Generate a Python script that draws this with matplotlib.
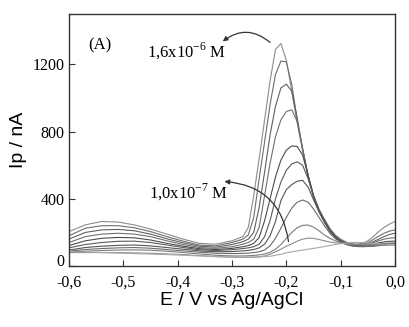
import numpy as np
import matplotlib
matplotlib.use("Agg")
import matplotlib.pyplot as plt
from matplotlib.ticker import FixedLocator, FuncFormatter

# potential grid (V vs Ag/AgCl)
potential = [-0.60, -0.57, -0.54, -0.51, -0.48, -0.45, -0.42, -0.39, -0.36, -0.33,
             -0.30, -0.28, -0.27, -0.26, -0.25, -0.24, -0.23, -0.22, -0.21, -0.20,
             -0.19, -0.18, -0.17, -0.16, -0.15, -0.14, -0.13, -0.12, -0.11, -0.10,
             -0.09, -0.08, -0.07, -0.06, -0.05, -0.04, -0.03, -0.02, -0.01, 0.00]

# currents (nA), highest concentration first
c01 = [205, 245, 265, 262, 245, 220, 190, 160, 135, 130,
       150, 175, 230, 420, 640, 870, 1100, 1290, 1325, 1225,
       1040, 850, 690, 540, 420, 340, 280, 225, 185, 160,
       143, 133, 130, 135, 150, 175, 205, 230, 250, 265]
c02 = [180, 225, 240, 240, 228, 205, 175, 148, 125, 120,
       140, 160, 185, 290, 520, 740, 960, 1140, 1220, 1215,
       1080, 870, 690, 535, 415, 335, 275, 220, 180, 155,
       140, 130, 127, 130, 140, 158, 178, 195, 208, 215]
c03 = [160, 200, 215, 218, 210, 190, 162, 138, 118, 112,
       128, 145, 160, 200, 350, 560, 780, 950, 1060, 1083,
       1040, 880, 695, 535, 412, 330, 270, 215, 178, 152,
       137, 128, 124, 126, 132, 145, 160, 175, 188, 195]
c04 = [140, 175, 190, 195, 190, 175, 150, 128, 110, 105,
       115, 130, 140, 160, 230, 420, 610, 770, 870, 920,
       930, 860, 700, 540, 415, 330, 268, 213, 175, 150,
       135, 126, 122, 123, 128, 138, 150, 160, 166, 168]
c05 = [122, 150, 165, 170, 168, 155, 135, 118, 103, 98,
       105, 115, 122, 135, 170, 270, 400, 530, 630, 690,
       715, 712, 660, 540, 420, 332, 268, 212, 173, 148,
       133, 124, 120, 120, 124, 130, 138, 144, 147, 148]
c06 = [108, 128, 140, 147, 148, 140, 125, 110, 97, 92,
       97, 104, 108, 115, 130, 175, 270, 400, 500, 570,
       608, 620, 600, 520, 415, 330, 265, 210, 172, 147,
       132, 123, 119, 118, 120, 124, 130, 134, 136, 137]
c07 = [95, 110, 118, 123, 125, 120, 110, 100, 90, 85,
       86, 90, 93, 98, 108, 130, 180, 265, 390, 455,
       485, 505, 510, 470, 395, 322, 260, 207, 170, 145,
       130, 121, 117, 116, 117, 120, 124, 127, 129, 130]
c08 = [88, 98, 104, 108, 110, 106, 98, 90, 82, 76,
       74, 75, 77, 80, 85, 95, 120, 165, 225, 290,
       345, 380, 393, 380, 340, 290, 240, 195, 163, 142,
       128, 120, 116, 115, 116, 118, 121, 124, 126, 127]
c09 = [84, 88, 92, 95, 96, 94, 88, 80, 72, 64,
       60, 60, 61, 63, 66, 72, 82, 100, 128, 165,
       200, 228, 242, 244, 232, 210, 185, 165, 150, 140,
       133, 128, 125, 124, 124, 125, 126, 127, 128, 128]
c10 = [80, 80, 80, 80, 78, 76, 72, 68, 62, 56,
       53, 52, 52, 53, 55, 60, 70, 85, 100, 118,
       132, 148, 160, 166, 165, 158, 150, 143, 138, 135,
       133, 131, 130, 129, 128, 127, 126, 126, 126, 126]
blank = [85, 83, 80, 77, 74, 71, 68, 64, 60, 56,
         52, 52, 52, 53, 54, 56, 58, 64, 70, 78,
         85, 90, 95, 100, 105, 110, 116, 122, 128, 133,
         137, 140, 141, 140, 138, 135, 132, 130, 128, 127]

curves = [c01, c02, c03, c04, c05, c06, c07, c08, c09, c10, blank]
shades = ["#8c8c8c", "#6e6e6e", "#606060", "#707070", "#4c4c4c",
          "#5a5a5a", "#555555", "#6a6a6a", "#7c7c7c", "#8a8a8a", "#a8a8a8"]

xticks = [-0.6, -0.5, -0.4, -0.3, -0.2, -0.1, 0.0]
yticks = [0, 400, 800, 1200]

serif = "Liberation Serif"
sans = "Liberation Sans"
plt.rcParams["mathtext.fontset"] = "custom"
plt.rcParams["mathtext.rm"] = serif

fig = plt.figure(figsize=(4.09, 3.27), dpi=100)
ax = fig.add_axes([0.1687, 0.1865, 0.7971, 0.7705])

for y, c in zip(curves, shades):
    ax.plot(potential, y, color=c, lw=0.8)

ax.set_xlim(-0.6, 0.0)
ax.set_ylim(0, 1500)
ax.xaxis.set_major_locator(FixedLocator(xticks))
ax.yaxis.set_major_locator(FixedLocator(yticks))
ax.xaxis.set_major_formatter(FuncFormatter(lambda v, p: f"{v:.1f}".replace(".", ",").replace("-0,0", "0,0")))
ax.yaxis.set_major_formatter(FuncFormatter(lambda v, p: f"{v:.0f}"))
ax.tick_params(direction="in", length=4, width=0.8, color="#333333", labelsize=11.5)
ax.tick_params(axis="x", pad=6)
ax.tick_params(axis="y", pad=3)
for lab in ax.get_xticklabels() + ax.get_yticklabels():
    lab.set_fontfamily(serif)
ax.get_yticklabels()[0].set_verticalalignment("baseline")
for s in ax.spines.values():
    s.set_linewidth(1.0)
    s.set_color("#333333")

ax.set_xlabel("E / V vs Ag/AgCl", fontfamily=sans, fontsize=14, labelpad=1)
ax.set_ylabel("Ip / nA", fontfamily=sans, fontsize=14, labelpad=4)

ax.text(-0.543, 1316, "(A)", fontfamily=serif, fontsize=12, ha="center", va="center")
ax.text(-0.456, 1275, r"1,6x10$^{\mathregular{-6}}$ M", fontfamily=serif, fontsize=12,
        ha="left", va="center")
ax.text(-0.453, 440, r"1,0x10$^{\mathregular{-7}}$ M", fontfamily=serif, fontsize=12,
        ha="left", va="center")

arrow = dict(arrowstyle="-|>", color="#333333", lw=0.9, shrinkA=0, shrinkB=0,
             mutation_scale=7)
ax.annotate("", xy=(-0.317, 1337), xytext=(-0.230, 1331),
            arrowprops=dict(arrow, connectionstyle="arc3,rad=0.4"))
ax.annotate("", xy=(-0.314, 503), xytext=(-0.196, 145),
            arrowprops=dict(arrow, connectionstyle="arc3,rad=0.4"))

fig.savefig("out.png", dpi=100)
